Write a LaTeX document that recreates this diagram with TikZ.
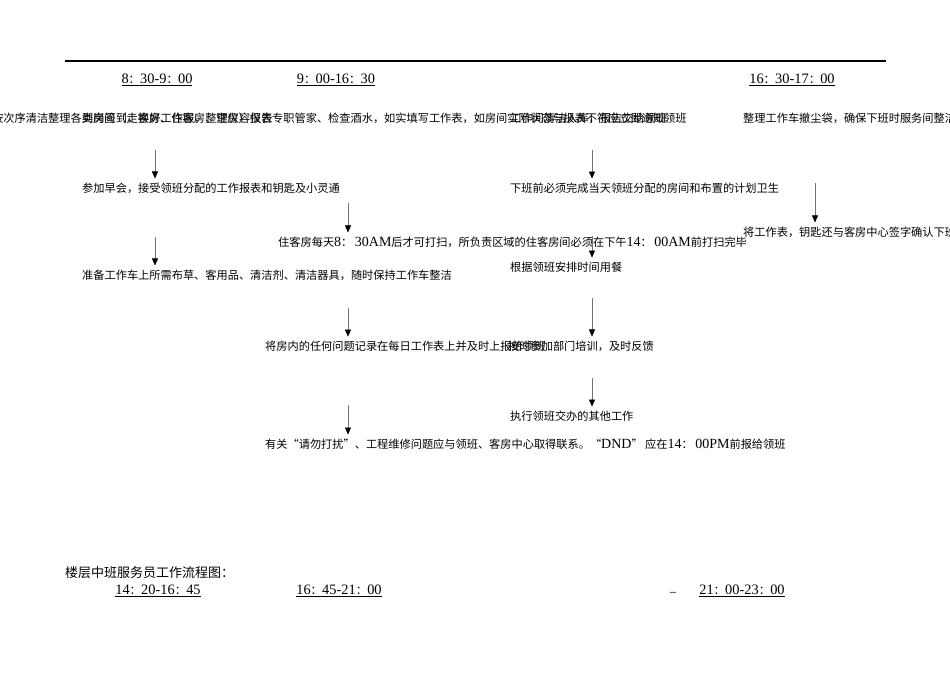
\documentclass[tikz,border=0pt]{standalone}
\usepackage{fontspec}
\setmainfont{Noto Sans CJK SC}
\newfontfamily\numfont[Scale=1.25]{Liberation Serif}
\usetikzlibrary{arrows.meta}
\newcommand{\hour}[3]{\underline{{\numfont #1}：{\numfont #2}：{\numfont #3}}}
\newcommand{\nm}[1]{{\numfont #1}}
\begin{document}
\begin{tikzpicture}[
    x=1pt, y=-1pt,
    task/.style={anchor=west, inner sep=0pt, font=\fontsize{11.2}{13}\selectfont},
    period/.style={inner sep=0pt, font=\fontsize{11.5}{14}\selectfont},
    arrow/.style={-{Triangle[length=7pt, width=6pt, color=black]}, draw=black!55, line width=0.5pt, shorten >=4pt}
]
    \useasboundingbox (0,0) rectangle (950,672);
    \draw [line width=1.2pt] (65,61) -- (886,61);

    % time headers
    \node [period] (h1) at (157,80) {\hour{8}{30-9}{00}};
    \node [period] (h2) at (336,80) {\hour{9}{00-16}{30}};
    \node [period] (h3) at (792,80) {\hour{16}{30-17}{00}};

    % first row, overlapping
    \node [task] (clean) at (-8,118) {按次序清洁整理各类房间（走客房、住客房、空房）报告专职管家、检查酒水，如实填写工作表，如房间实际状态与报表不符应立即通知领班};
    \node [task] (signin) at (82,118) {到岗签到，换好工作服，整理仪容仪表};
    \node [task] (report) at (510,118) {工作间清洁入库，报告交给领班};
    \node [task] (tidy) at (743,118) {整理工作车撤尘袋，确保下班时服务间整洁};

    % column 1
    \node [task] (meeting) at (82,188) {参加早会，接受领班分配的工作报表和钥匙及小灵通};
    \node [task] (cart) at (82,275) {准备工作车上所需布草、客用品、清洁剂、清洁器具，随时保持工作车整洁};

    % column 2
    \node [task] (rooms) at (278,242) {住客房每天\nm{8}： \nm{30AM}后才可打扫，所负责区域的住客房间必须在下午\nm{14}： \nm{00AM}前打扫完毕};
    \node [task] (record) at (265,346) {将房内的任何问题记录在每日工作表上并及时上报给领班};
    \node [task] (dnd) at (265,444) {有关“请勿打扰”、工程维修问题应与领班、客房中心取得联系。“\nm{DND}” 应在\nm{14}： \nm{00PM}前报给领班};

    % column 3
    \node [task] (finish) at (510,188) {下班前必须完成当天领班分配的房间和布置的计划卫生};
    \node [task] (meal) at (510,267) {根据领班安排时间用餐};
    \node [task] (train) at (508,346) {按时参加部门培训，及时反馈};
    \node [task] (other) at (510,416) {执行领班交办的其他工作};

    % column 4
    \node [task] (keys) at (743,232) {将工作表，钥匙还与客房中心签字确认下班};

    % arrow starts
    \coordinate (s1) at (155,150);
    \coordinate (s2) at (155,237);
    \coordinate (s3) at (348,203);
    \coordinate (s4) at (348,308);
    \coordinate (s5) at (348,405);
    \coordinate (s6) at (592,150);
    \coordinate (s7) at (592,236);
    \coordinate (s8) at (592,298);
    \coordinate (s9) at (592,378);
    \coordinate (s10) at (815,183);

    \draw [arrow] (s1) -- (s1 |- meeting.north);
    \draw [arrow] (s2) -- (s2 |- cart.north);
    \draw [arrow] (s3) -- (s3 |- rooms.north);
    \draw [arrow] (s4) -- (s4 |- record.north);
    \draw [arrow] (s5) -- (s5 |- dnd.north);
    \draw [arrow] (s6) -- (s6 |- finish.north);
    \draw [arrow] (s7) -- (s7 |- meal.north);
    \draw [arrow] (s8) -- (s8 |- train.north);
    \draw [arrow] (s9) -- (s9 |- other.north);
    \draw [arrow] (s10) -- (s10 |- keys.north);

    % middle shift
    \node [task, font=\fontsize{13}{15}\selectfont] (title) at (65,573) {楼层中班服务员工作流程图：};
    \node [period] (h4) at (158,591) {\hour{14}{20-16}{45}};
    \node [period] (h5) at (339,591) {\hour{16}{45-21}{00}};
    \node [period] (dash) at (673,592) {\_};
    \node [period] (h6) at (742,591) {\hour{21}{00-23}{00}};
\end{tikzpicture}
\end{document}
